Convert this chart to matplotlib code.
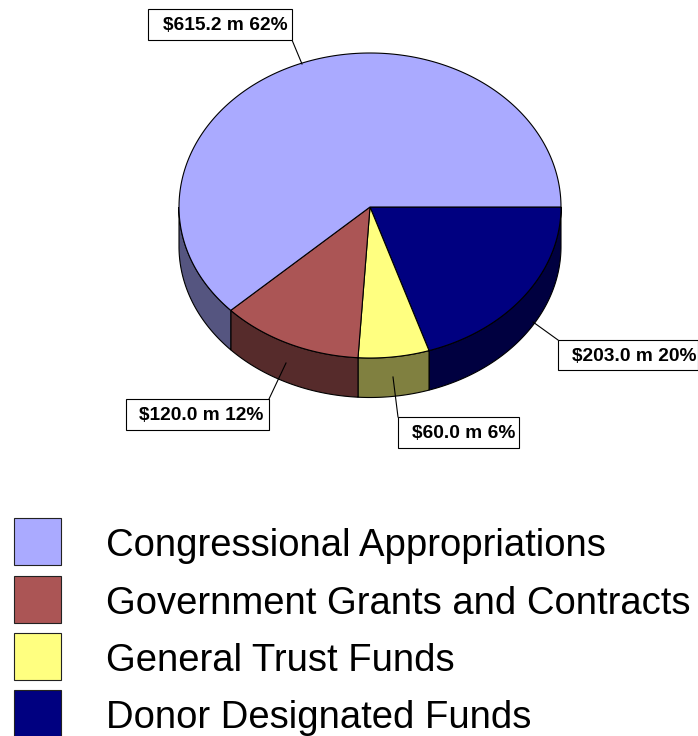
import numpy as np
import matplotlib
matplotlib.use('Agg')
import matplotlib.pyplot as plt
from matplotlib.patches import Polygon, Rectangle

plt.rcParams['font.family'] = ['Liberation Sans', 'DejaVu Sans']

# Drawing order goes clockwise from 3 o'clock
names = ['Donor Designated Funds', 'General Trust Funds',
         'Government Grants and Contracts', 'Congressional Appropriations']
# slices follow the rounded percentages of the labels, not the dollar figures
shares = [20, 6, 12, 62]
labels = ['$203.0 m 20%', '$60.0 m 6%', '$120.0 m 12%', '$615.2 m 62%']
top_colors = ['#000080', '#FFFF80', '#AB5555', '#AAAAFF']
side_colors = ['#000040', '#808040', '#562B2B', '#555580']

legend_order = [3, 2, 1, 0]
legend_tops = [518, 576, 633, 690]

# label box x0, y0, x1, y1 and the leader line, in pixels
boxes = [(558, 340, 698, 370), (398, 417, 519, 448), (126, 399, 269, 430), (148, 9, 292, 40)]
text_right = [696, 515, 263, 288]
leaders = [((558, 340), (533, 322)), ((398, 417), (393, 377)),
           ((269, 399), (286, 363)), ((292, 40), (302, 64))]

# the top face is slightly flatter in front than behind
cx, cy, rx, ry_back, ry_front, depth = 370, 207, 191, 154, 151, 39.5

fig = plt.figure(figsize=(6.98, 7.36), dpi=100)
ax = fig.add_axes([0, 0, 1, 1])
ax.set_xlim(0, 698)
ax.set_ylim(736, 0)
ax.axis('off')


def rim(a0, a1):
    t = np.radians(np.linspace(a0, a1, 200))
    s = np.sin(t)
    return np.column_stack([cx + rx * np.cos(t), cy + np.where(s > 0, ry_front, ry_back) * s])


edges = np.concatenate([[0], np.cumsum(shares)]) / sum(shares) * 360

# side walls first, only the front half of the rim shows
for i in range(len(shares)):
    a0, a1 = edges[i], min(edges[i + 1], 180)
    if a0 >= 180:
        continue
    arc = rim(a0, a1)
    wall = np.vstack([arc, (arc + [0, depth])[::-1]])
    ax.add_patch(Polygon(wall, closed=True, fc=side_colors[i], ec='black', lw=0.8, zorder=2))

for i in range(len(shares)):
    top = np.vstack([[cx, cy], rim(edges[i], edges[i + 1])])
    ax.add_patch(Polygon(top, closed=True, fc=top_colors[i], ec='black', lw=0.8, zorder=3))

for i in range(len(labels)):
    x0, y0, x1, y1 = boxes[i]
    ax.plot(*zip(*leaders[i]), color='black', lw=0.8, zorder=4)
    ax.add_patch(Rectangle((x0 + 1, y0 + 1), x1 - x0, y1 - y0, fc='#808080', ec='none', zorder=4))
    ax.add_patch(Rectangle((x0, y0), x1 - x0, y1 - y0, fc='white', ec='black', lw=0.8, zorder=5))
    ax.text(text_right[i], (y0 + y1) / 2 + 1.5, labels[i], ha='right', va='center',
            fontsize=13.8, fontweight='bold', color='black', zorder=6)

for top_y, i in zip(legend_tops, legend_order):
    ax.add_patch(Rectangle((14, top_y), 47, 47, fc=top_colors[i], ec='#222222', lw=0.8, clip_on=False))
    ax.text(106, top_y + 28, names[i], ha='left', va='center', fontsize=27.5, color='black')

fig.savefig('out.png', dpi=100)
